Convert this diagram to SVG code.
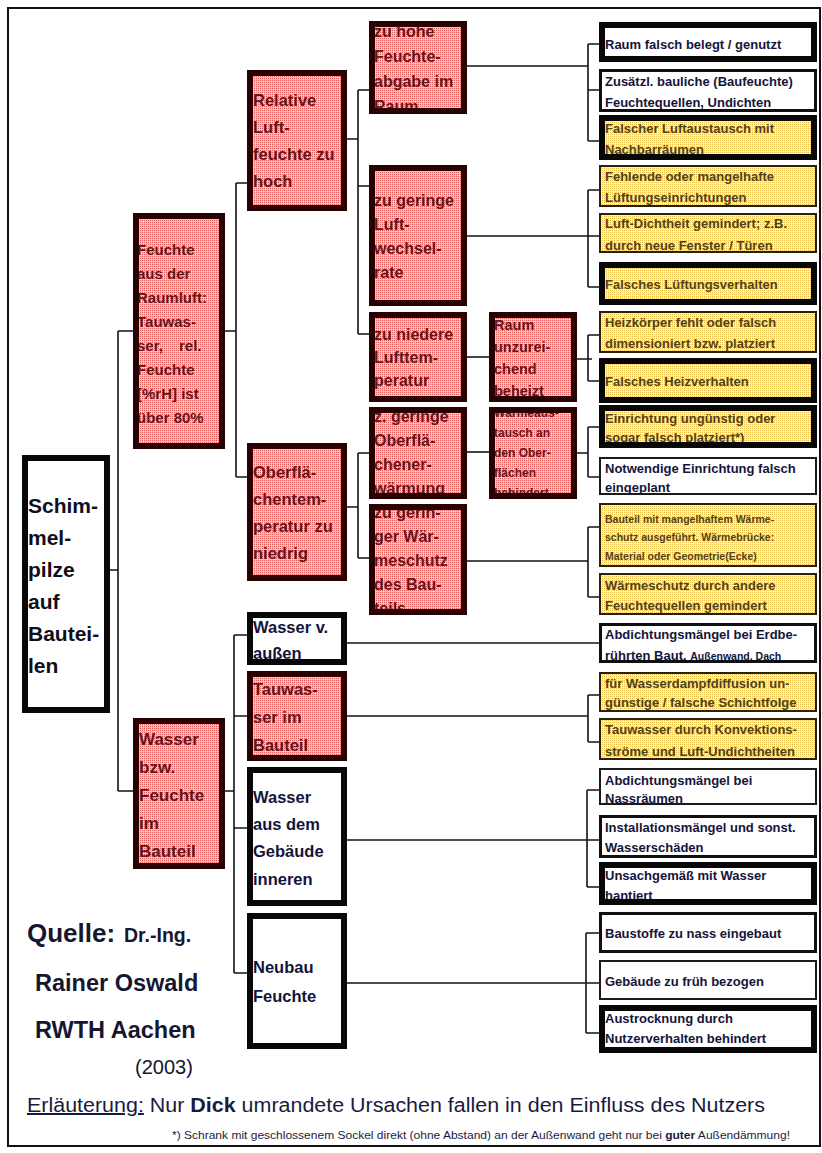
<svg xmlns="http://www.w3.org/2000/svg" width="822" height="1153" viewBox="0 0 822 1153">
<defs>
<pattern id="pk" width="2" height="2" patternUnits="userSpaceOnUse"><rect width="2" height="2" fill="#fcc0c0"/><rect width="1" height="1" fill="#e05a5a"/></pattern>
<pattern id="yl" width="2" height="2" patternUnits="userSpaceOnUse"><rect width="2" height="2" fill="#fff0c0"/><rect width="1" height="1" fill="#e8c050"/></pattern>
</defs>
<style>
.lk{stroke:#151515;stroke-width:1.6;fill:none}
.pf{fill:url(#pk)}
.yf{fill:url(#yl)}
.wf{fill:#ffffff}
.pb{fill:none;stroke:#2a0202;stroke-width:6}
.kb{fill:none;stroke:#080808;stroke-width:6}
.mb{fill:none;stroke:#101010;stroke-width:3}
.tb{fill:none;stroke:#1a1a1a;stroke-width:2}
.yb{fill:none;stroke:#2a2208;stroke-width:2}
text{font-family:"Liberation Sans",Arial,sans-serif;font-weight:bold}
text.rg{font-weight:normal}
tspan.bd{font-weight:bold}
.tp{fill:#5a1822;font-size:16.5px}
.tw{fill:#14143a;font-size:16.5px}
.t5{font-size:13px}
.w5{fill:#14143a}
.y5{fill:#4d4220}
</style>
<rect x="8" y="8" width="812" height="1138" fill="none" stroke="#111" stroke-width="2"/>

<g id="connectors">
<path class="lk" d="M110,570H118M118,331V791M118,331H133M118,791H133"/>
<path class="lk" d="M225,331H236M236,183V477M236,183H247M236,477H247"/>
<path class="lk" d="M225,791H234M234,635V973M234,635H247M234,716H247M234,828H247M234,973H247"/>
<path class="lk" d="M347,139H358M358,90V334M358,90H370M358,186H370M358,334H370"/>
<path class="lk" d="M347,507H358M358,453V558M358,453H370M358,558H370"/>
<path class="lk" d="M467,66H588M588,44V141M588,44H599M588,90H599M588,141H599"/>
<path class="lk" d="M467,236H588M588,190V287M588,190H599M588,236H599M588,287H599"/>
<path class="lk" d="M467,357H489"/>
<path class="lk" d="M577,359H592M588,335V381M588,335H599M588,381H599"/>
<path class="lk" d="M467,452H489"/>
<path class="lk" d="M577,453H588M588,427V477M588,427H599M588,477H599"/>
<path class="lk" d="M467,561H588M588,527V597M588,527H599M588,597H599"/>
<path class="lk" d="M347,643H599"/>
<path class="lk" d="M347,716H588M588,695V742M588,695H599M588,742H599"/>
<path class="lk" d="M347,840H599M587,790V887M587,790H599M587,887H599"/>
<path class="lk" d="M347,983H599M586,933V1033M586,933H599M586,1033H599"/>
</g>

<g id="n-schimmel">
<rect class="wf" x="22" y="455" width="88" height="258"/>
<text fill="#0e0e20" font-size="21"><tspan x="28" y="513">Schim-</tspan><tspan x="28" y="545">mel-</tspan><tspan x="28" y="577">pilze</tspan><tspan x="28" y="609">auf</tspan><tspan x="28" y="641">Bautei-</tspan><tspan x="28" y="673">len</tspan></text>
<rect class="kb" x="25" y="458" width="82" height="252"/>
</g>

<g id="n-raumluft">
<rect class="pf" x="133" y="213" width="92" height="236"/>
<text class="tp" style="font-size:15px"><tspan x="137" y="255">Feuchte</tspan><tspan x="137" y="279">aus der</tspan><tspan x="137" y="303">Raumluft:</tspan><tspan x="137" y="327">Tauwas-</tspan><tspan x="137" y="351">ser,</tspan><tspan x="179" y="351">rel.</tspan><tspan x="137" y="375">Feuchte</tspan><tspan x="137" y="399">[%rH] ist</tspan><tspan x="137" y="423">über 80%</tspan></text>
<rect class="pb" x="136" y="216" width="86" height="230"/>
</g>

<g id="n-bauteil">
<rect class="pf" x="133" y="718" width="92" height="151"/>
<text class="tp" style="font-size:17px"><tspan x="139" y="745">Wasser</tspan><tspan x="139" y="773">bzw.</tspan><tspan x="139" y="801">Feuchte</tspan><tspan x="139" y="829">im</tspan><tspan x="139" y="857">Bauteil</tspan></text>
<rect class="pb" x="136" y="721" width="86" height="145"/>
</g>

<g id="n-relativ">
<rect class="pf" x="247" y="70" width="100" height="141"/>
<text class="tp"><tspan x="253" y="106">Relative</tspan><tspan x="253" y="133">Luft-</tspan><tspan x="253" y="160">feuchte zu</tspan><tspan x="253" y="187">hoch</tspan></text>
<rect class="pb" x="250" y="73" width="94" height="135"/>
</g>

<g id="n-oberflaeche">
<rect class="pf" x="247" y="443" width="100" height="138"/>
<text class="tp"><tspan x="253" y="478">Oberflä-</tspan><tspan x="253" y="505">chentem-</tspan><tspan x="253" y="532">peratur zu</tspan><tspan x="253" y="559">niedrig</tspan></text>
<rect class="pb" x="250" y="446" width="94" height="132"/>
</g>

<g id="n-aussen">
<rect class="wf" x="247" y="612" width="100" height="53"/>
<text class="tw"><tspan x="253" y="633">Wasser v.</tspan><tspan x="253" y="659">außen</tspan></text>
<rect class="kb" x="250" y="615" width="94" height="47"/>
</g>

<g id="n-tauwasser">
<rect class="pf" x="247" y="671" width="100" height="90"/>
<text class="tp"><tspan x="253" y="695">Tauwas-</tspan><tspan x="253" y="723">ser im</tspan><tspan x="253" y="751">Bauteil</tspan></text>
<rect class="pb" x="250" y="674" width="94" height="84"/>
</g>

<g id="n-innen">
<rect class="wf" x="247" y="767" width="100" height="139"/>
<text class="tw"><tspan x="253" y="803">Wasser</tspan><tspan x="253" y="830">aus dem</tspan><tspan x="253" y="857">Gebäude</tspan><tspan x="253" y="885">inneren</tspan></text>
<rect class="kb" x="250" y="770" width="94" height="133"/>
</g>

<g id="n-neubau">
<rect class="wf" x="247" y="913" width="100" height="136"/>
<text class="tw"><tspan x="253" y="973">Neubau</tspan><tspan x="253" y="1002">Feuchte</tspan></text>
<rect class="kb" x="250" y="916" width="94" height="130"/>
</g>

<g id="n-feuchteabgabe">
<rect class="pf" x="369" y="21" width="98" height="93"/>
<text class="tp" style="font-size:16px"><tspan x="374" y="37">zu hohe</tspan><tspan x="374" y="62">Feuchte-</tspan><tspan x="374" y="87">abgabe im</tspan><tspan x="374" y="112">Raum</tspan></text>
<rect class="pb" x="372" y="24" width="92" height="87"/>
</g>

<g id="n-luftwechsel">
<rect class="pf" x="369" y="165" width="98" height="141"/>
<text class="tp" style="font-size:16px"><tspan x="374" y="206">zu geringe</tspan><tspan x="374" y="230">Luft-</tspan><tspan x="374" y="254">wechsel-</tspan><tspan x="374" y="278">rate</tspan></text>
<rect class="pb" x="372" y="168" width="92" height="135"/>
</g>

<g id="n-lufttemp">
<rect class="pf" x="369" y="312" width="98" height="90"/>
<text class="tp" style="font-size:16px"><tspan x="374" y="340">zu niedere</tspan><tspan x="374" y="363">Lufttem-</tspan><tspan x="374" y="386">peratur</tspan></text>
<rect class="pb" x="372" y="315" width="92" height="84"/>
</g>

<g id="n-erwaermung">
<rect class="pf" x="369" y="407" width="98" height="92"/>
<text class="tp" style="font-size:16px"><tspan x="374" y="422">z. geringe</tspan><tspan x="374" y="446">Oberflä-</tspan><tspan x="374" y="470">chener-</tspan><tspan x="374" y="494">wärmung</tspan></text>
<rect class="pb" x="372" y="410" width="92" height="86"/>
</g>

<g id="n-waermeschutz">
<rect class="pf" x="369" y="504" width="98" height="111"/>
<text class="tp" style="font-size:16px"><tspan x="374" y="518">zu gerin-</tspan><tspan x="374" y="542">ger Wär-</tspan><tspan x="374" y="566">meschutz</tspan><tspan x="374" y="590">des Bau-</tspan><tspan x="374" y="614">teils</tspan></text>
<rect class="pb" x="372" y="507" width="92" height="105"/>
</g>

<g id="n-beheizt">
<rect class="pf" x="489" y="312" width="88" height="90"/>
<text class="tp" style="font-size:14.5px"><tspan x="494" y="330">Raum</tspan><tspan x="494" y="352">unzurei-</tspan><tspan x="494" y="374">chend</tspan><tspan x="494" y="396">beheizt</tspan></text>
<rect class="pb" x="492" y="315" width="82" height="84"/>
</g>

<g id="n-waermeaustausch">
<rect class="pf" x="489" y="407" width="88" height="92"/>
<text class="tp" style="font-size:12px"><tspan x="494" y="417">Wärmeaus-</tspan><tspan x="494" y="437">tausch an</tspan><tspan x="494" y="457">den Ober-</tspan><tspan x="494" y="477">flächen</tspan><tspan x="494" y="497">behindert</tspan></text>
<rect class="pb" x="492" y="410" width="82" height="86"/>
</g>

<g id="c01"><rect class="wf" x="599" y="22" width="218" height="40"/><text class="t5 w5"><tspan x="605" y="48.5">Raum falsch belegt / genutzt</tspan></text><rect class="kb" x="602" y="25" width="212" height="34"/></g>
<g id="c02"><rect class="wf" x="599" y="69" width="218" height="43"/><text class="t5 w5"><tspan x="605" y="85.5">Zusätzl. bauliche (Baufeuchte)</tspan><tspan x="605" y="106.5">Feuchtequellen, Undichten</tspan></text><rect class="mb" x="600.5" y="70.5" width="215" height="40"/></g>
<g id="c03"><rect class="yf" x="599" y="115" width="218" height="45"/><text class="t5 y5"><tspan x="605" y="132.5">Falscher Luftaustausch mit</tspan><tspan x="605" y="153.5">Nachbarräumen</tspan></text><rect class="kb" x="602" y="118" width="212" height="39"/></g>
<g id="c04"><rect class="yf" x="599" y="165" width="218" height="42"/><text class="t5 y5"><tspan x="605" y="180.5">Fehlende oder mangelhafte</tspan><tspan x="605" y="201.5">Lüftungseinrichtungen</tspan></text><rect class="yb" x="600" y="166" width="216" height="40"/></g>
<g id="c05"><rect class="yf" x="599" y="213" width="218" height="40"/><text class="t5 y5"><tspan x="605" y="227.5">Luft-Dichtheit gemindert; z.B.</tspan><tspan x="605" y="249.5">durch neue Fenster / Türen</tspan></text><rect class="yb" x="600" y="214" width="216" height="38"/></g>
<g id="c06"><rect class="yf" x="599" y="262" width="218" height="43"/><text class="t5 y5"><tspan x="605" y="288.5">Falsches Lüftungsverhalten</tspan></text><rect class="kb" x="602" y="265" width="212" height="37"/></g>
<g id="c07"><rect class="yf" x="599" y="311" width="218" height="42"/><text class="t5 y5"><tspan x="605" y="326.5">Heizkörper fehlt oder falsch</tspan><tspan x="605" y="347.5">dimensioniert bzw. platziert</tspan></text><rect class="yb" x="600" y="312" width="216" height="40"/></g>
<g id="c08"><rect class="yf" x="599" y="358" width="218" height="45"/><text class="t5 y5"><tspan x="605" y="385.5">Falsches Heizverhalten</tspan></text><rect class="kb" x="602" y="361" width="212" height="39"/></g>
<g id="c09"><rect class="yf" x="599" y="405" width="218" height="43"/><text class="t5 y5"><tspan x="605" y="422.5">Einrichtung ungünstig oder</tspan><tspan x="605" y="442">sogar falsch platziert*)</tspan></text><rect class="kb" x="602" y="408" width="212" height="37"/></g>
<g id="c10"><rect class="wf" x="599" y="457" width="218" height="38"/><text class="t5 w5"><tspan x="605" y="472.5">Notwendige Einrichtung falsch</tspan><tspan x="605" y="491.5">eingeplant</tspan></text><rect class="tb" x="600" y="458" width="216" height="36"/></g>
<g id="c11"><rect class="yf" x="599" y="503" width="218" height="64"/><text class="y5" font-size="10.5"><tspan x="605" y="522.5">Bauteil mit mangelhaftem Wärme-</tspan><tspan x="605" y="541">schutz ausgeführt. Wärmebrücke:</tspan><tspan x="605" y="559.5">Material oder Geometrie(Ecke)</tspan></text><rect class="yb" x="600" y="504" width="216" height="62"/></g>
<g id="c12"><rect class="yf" x="599" y="573" width="218" height="42"/><text class="t5 y5"><tspan x="605" y="589.5">Wärmeschutz durch andere</tspan><tspan x="605" y="609.5">Feuchtequellen gemindert</tspan></text><rect class="yb" x="600" y="574" width="216" height="40"/></g>
<g id="c13"><rect class="wf" x="599" y="623" width="218" height="40"/><text class="t5 w5"><tspan x="605" y="638.5">Abdichtungsmängel bei Erdbe-</tspan><tspan x="605" y="659.5">rührten Baut. </tspan><tspan font-size="10.5">Außenwand, Dach</tspan></text><rect class="mb" x="600.5" y="624.5" width="215" height="37"/></g>
<g id="c14"><rect class="yf" x="599" y="672" width="218" height="40"/><text class="t5 y5"><tspan x="605" y="687.5">für Wasserdampfdiffusion un-</tspan><tspan x="605" y="706.5">günstige / falsche Schichtfolge</tspan></text><rect class="yb" x="600" y="673" width="216" height="38"/></g>
<g id="c15"><rect class="yf" x="599" y="718" width="218" height="42"/><text class="t5 y5"><tspan x="605" y="733.5">Tauwasser durch Konvektions-</tspan><tspan x="605" y="755.5">ströme und Luft-Undichtheiten</tspan></text><rect class="yb" x="600" y="719" width="216" height="40"/></g>
<g id="c16"><rect class="wf" x="599" y="768" width="218" height="37"/><text class="t5 w5"><tspan x="605" y="784.5">Abdichtungsmängel bei</tspan><tspan x="605" y="802.5">Nassräumen</tspan></text><rect class="tb" x="600" y="769" width="216" height="35"/></g>
<g id="c17"><rect class="wf" x="599" y="815" width="218" height="43"/><text class="t5 w5"><tspan x="605" y="831.5">Installationsmängel und sonst.</tspan><tspan x="605" y="851.5">Wasserschäden</tspan></text><rect class="mb" x="600.5" y="816.5" width="215" height="40"/></g>
<g id="c18"><rect class="wf" x="599" y="862" width="218" height="43"/><text class="t5 w5"><tspan x="605" y="879.5">Unsachgemäß mit Wasser</tspan><tspan x="605" y="899.5">hantiert</tspan></text><rect class="kb" x="602" y="865" width="212" height="37"/></g>
<g id="c19"><rect class="wf" x="599" y="912" width="218" height="41"/><text class="t5 w5"><tspan x="605" y="937.5">Baustoffe zu nass eingebaut</tspan></text><rect class="mb" x="600.5" y="913.5" width="215" height="38"/></g>
<g id="c20"><rect class="wf" x="599" y="960" width="218" height="40"/><text class="t5 w5"><tspan x="605" y="985.5">Gebäude zu früh bezogen</tspan></text><rect class="tb" x="600" y="961" width="216" height="38"/></g>
<g id="c21"><rect class="wf" x="599" y="1005" width="218" height="48"/><text class="t5 w5"><tspan x="605" y="1022.5">Austrocknung durch</tspan><tspan x="605" y="1042.5">Nutzerverhalten behindert</tspan></text><rect class="kb" x="602" y="1008" width="212" height="42"/></g>

<g id="source" fill="#161630">
<text x="27" y="942" font-size="26">Quelle:<tspan x="124" font-size="19.5">Dr.-Ing.</tspan></text>
<text x="35" y="991" font-size="23.5">Rainer Oswald</text>
<text x="35" y="1038" font-size="23.5">RWTH Aachen</text>
<text class="rg" x="135" y="1074" font-size="20">(2003)</text>
</g>

<g id="legend" fill="#1a1a40">
<text class="rg" x="27" y="1112" font-size="20" textLength="738" lengthAdjust="spacingAndGlyphs"><tspan text-decoration="underline">Erläuterung:</tspan> Nur <tspan class="bd">Dick</tspan> umrandete Ursachen fallen in den Einfluss des Nutzers</text>
<text class="rg" x="172" y="1139" font-size="10.5" textLength="618" lengthAdjust="spacingAndGlyphs">*) Schrank mit geschlossenem Sockel direkt (ohne Abstand) an der Außenwand geht nur bei <tspan class="bd">guter</tspan> Außendämmung!</text>
</g>
</svg>
